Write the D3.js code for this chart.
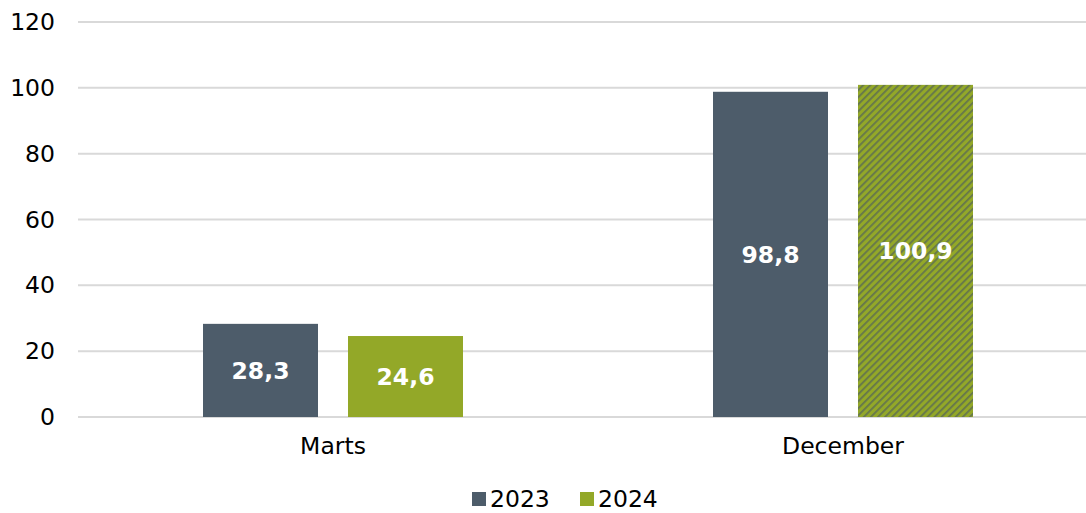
<!DOCTYPE html>
<html>
<head>
<meta charset="utf-8">
<script src="https://cdn.jsdelivr.net/npm/d3@7"></script>
<style>
  body { margin: 0; background: #fff; }
  svg { display: block; font-family: "DejaVu Sans", Verdana, sans-serif; }
</style>
</head>
<body>
<div id="chart"></div>
<script>
// data
var categories = ["Marts", "December"];
var seriesNames = ["2023", "2024"];
var values2023 = [28.3, 98.8];
var values2024 = [24.6, 100.9];
var yTicks = [0, 20, 40, 60, 80, 100, 120];

var viewBox = {width: 1086, height: 513},
    margin = {top: 22, right: -12, bottom: 96, left: 78},
    width = viewBox.width - margin.left - margin.right,
    height = viewBox.height - margin.top - margin.bottom;

var colors = {"2023": "#4d5c6a", "2024": "#93a828"};
var fontSize = 23.5;

var svg = d3.select("#chart")
  .append("svg")
  .attr("width", viewBox.width)
  .attr("height", viewBox.height);

// hatch pattern for the last bar
var defs = svg.append("defs");
var pat = defs.append("pattern")
  .attr("id", "hatch")
  .attr("patternUnits", "userSpaceOnUse")
  .attr("width", 5)
  .attr("height", 5)
  .attr("patternTransform", "rotate(-45)");
pat.append("rect").attr("width", 5).attr("height", 5).attr("fill", "#93a828");
pat.append("rect").attr("width", 5).attr("height", 1.8).attr("fill", "#65764c");

var g = svg.append("g")
  .attr("transform", "translate(" + margin.left + "," + margin.top + ")");

var y = d3.scaleLinear()
  .domain([0, 120])
  .range([height, 0]);

var x0 = d3.scaleBand()
  .domain(categories)
  .range([0, width])
  .paddingInner(0)
  .paddingOuter(0);

var x1 = d3.scaleBand()
  .domain(seriesNames)
  .range([0, 260])
  .paddingInner(30 / 145)
  .paddingOuter(0);

// gridlines
g.append("g")
  .selectAll("line")
  .data(yTicks)
  .join("line")
    .attr("x1", 0)
    .attr("x2", width)
    .attr("y1", d => y(d))
    .attr("y2", d => y(d))
    .attr("stroke", "#d9d9d9")
    .attr("stroke-width", 2);

// y axis labels
var yAxis = g.append("g")
  .call(d3.axisLeft(y).tickValues(yTicks).tickSize(0).tickPadding(23));
yAxis.select(".domain").remove();
yAxis.selectAll("text")
  .attr("font-size", fontSize)
  .attr("font-family", "DejaVu Sans, Verdana, sans-serif")
  .attr("fill", "#000");

// x axis labels
var xAxis = g.append("g")
  .attr("transform", "translate(0," + height + ")")
  .call(d3.axisBottom(x0).tickSize(0).tickPadding(20));
xAxis.select(".domain").remove();
xAxis.selectAll("text")
  .attr("font-size", fontSize)
  .attr("font-family", "DejaVu Sans, Verdana, sans-serif")
  .attr("fill", "#000");

var rows = categories.map(function(c, i) {
  return [
    {cat: c, series: "2023", value: values2023[i], i: i},
    {cat: c, series: "2024", value: values2024[i], i: i}
  ];
});

var groups = g.selectAll(".grp")
  .data(rows)
  .join("g")
    .attr("class", "grp")
    .attr("transform", d => "translate(" + (x0(d[0].cat) + (x0.bandwidth() - 260) / 2) + ",0)");

groups.selectAll("rect")
  .data(d => d)
  .join("rect")
    .attr("x", d => x1(d.series))
    .attr("width", x1.bandwidth())
    .attr("y", d => y(d.value))
    .attr("height", d => y(0) - y(d.value))
    .attr("fill", d => (d.series === "2024" && d.i === categories.length - 1) ? "url(#hatch)" : colors[d.series]);

groups.selectAll("text")
  .data(d => d)
  .join("text")
    .attr("x", d => x1(d.series) + x1.bandwidth() / 2)
    .attr("y", d => (y(d.value) + y(0)) / 2)
    .attr("dy", "0.36em")
    .attr("text-anchor", "middle")
    .attr("font-size", fontSize)
    .attr("font-weight", "bold")
    .attr("fill", "#fff")
    .text(d => d3.format(".1f")(d.value).replace(".", ","));

// legend
var legend = svg.append("g")
  .attr("transform", "translate(472,499)");
var items = legend.selectAll("g")
  .data(seriesNames)
  .join("g")
    .attr("transform", (d, i) => "translate(" + (i * 108) + ",0)");
items.append("rect")
  .attr("x", 0)
  .attr("y", -7)
  .attr("width", 14)
  .attr("height", 14)
  .attr("fill", d => colors[d]);
items.append("text")
  .attr("x", 18)
  .attr("dy", "0.36em")
  .attr("font-size", fontSize)
  .attr("fill", "#000")
  .text(d => d);
</script>
</body>
</html>
